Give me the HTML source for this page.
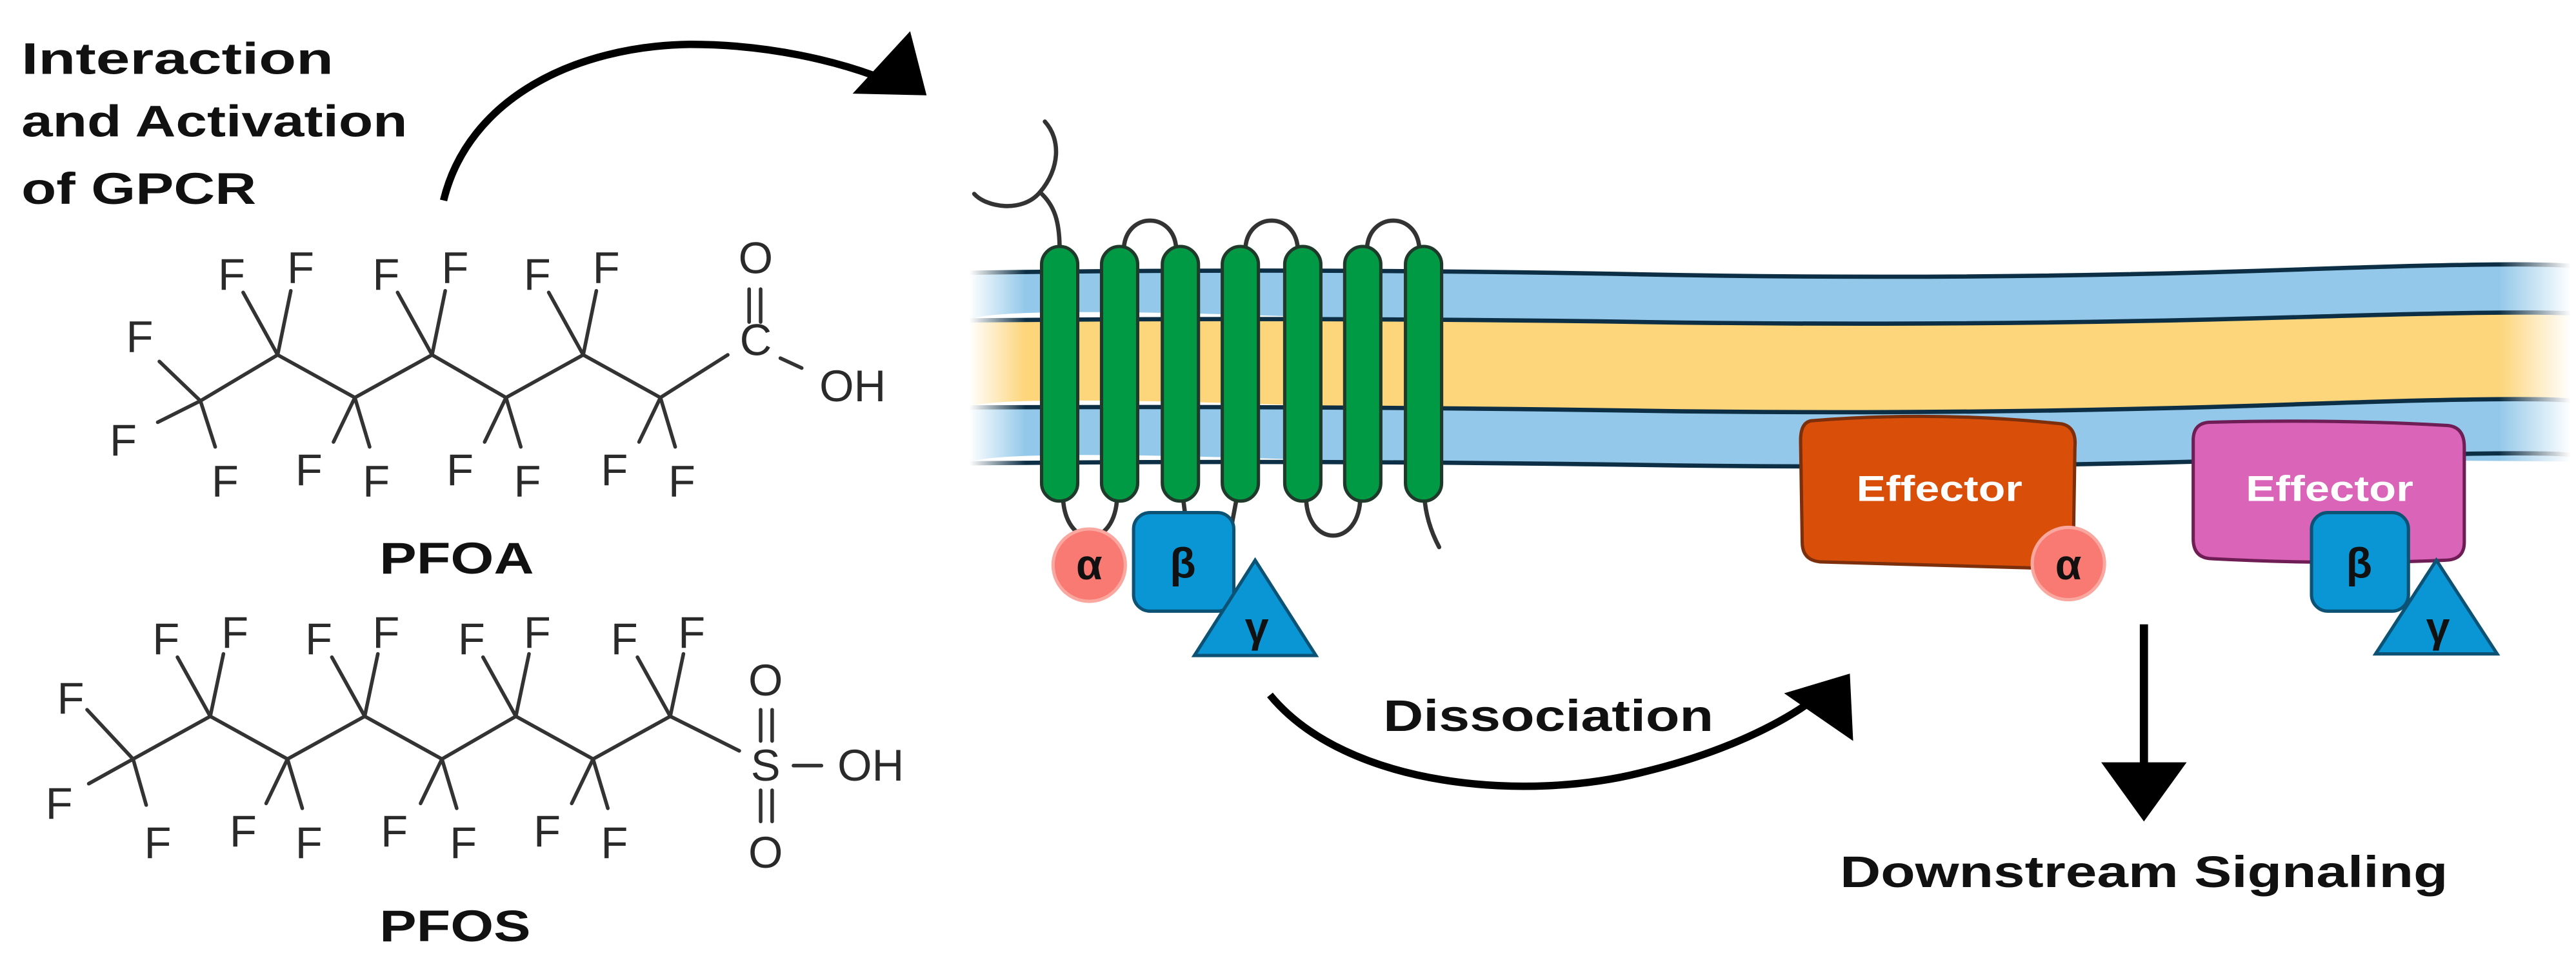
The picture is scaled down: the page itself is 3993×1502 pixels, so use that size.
<!DOCTYPE html>
<html><head><meta charset="utf-8"><style>
html,body{margin:0;padding:0;background:#fff;}
svg{display:block;}
text{font-family:"Liberation Sans",Arial,sans-serif;}
.f{font-size:27px;fill:#2a2a2a;text-anchor:middle;dominant-baseline:central;}
.b{stroke:#333;stroke-width:2.2;fill:none;stroke-linecap:round;}
.lbl{font-weight:bold;font-size:27px;fill:#111;}
.hx{fill:#009a44;stroke:#1f3a2a;stroke-width:2;}
.lp{stroke:#333;stroke-width:2.6;fill:none;stroke-linecap:round;}
.ml{stroke:#0d2f45;stroke-width:2.6;fill:none;}
.g{font-weight:bold;font-size:26px;fill:#111;text-anchor:middle;dominant-baseline:central;}
.eff{font-weight:bold;font-size:22px;fill:#fff;}
</style></head><body>
<svg width="3993" height="1502" viewBox="0 0 1568 589.8" preserveAspectRatio="none" xmlns="http://www.w3.org/2000/svg">
<defs>
<linearGradient id="fade" x1="0" x2="1" y1="0" y2="0">
<stop offset="0" stop-color="#fff" stop-opacity="0"/>
<stop offset="0.035" stop-color="#fff" stop-opacity="1"/>
<stop offset="0.955" stop-color="#fff" stop-opacity="1"/>
<stop offset="1" stop-color="#fff" stop-opacity="0"/>
</linearGradient>
<mask id="m"><rect x="590" y="140" width="975" height="170" fill="url(#fade)"/></mask>
</defs>

<!-- Left texts -->
<text class="lbl" x="13" y="45" textLength="190" lengthAdjust="spacingAndGlyphs">Interaction</text>
<text class="lbl" x="13" y="83" textLength="235" lengthAdjust="spacingAndGlyphs">and Activation</text>
<text class="lbl" x="13" y="124" textLength="143" lengthAdjust="spacingAndGlyphs">of GPCR</text>

<!-- top arrow -->
<path d="M270,122 C285,60 350,28 420,27 C470,27 510,38 532,46" stroke="#000" stroke-width="4.5" fill="none"/>
<polygon points="519,57 554,19 564,58" fill="#000"/>

<!-- PFOA -->
<g>
<polyline class="b" points="122,244 169,216 216,242 263,216 308,242 355,216 402,242 443,216"/>
<line class="b" x1="122" y1="244" x2="97" y2="220"/>
<line class="b" x1="122" y1="244" x2="96" y2="257"/>
<line class="b" x1="122" y1="244" x2="131" y2="272"/>
<text class="f" x="85" y="205">F</text><text class="f" x="75" y="268">F</text><text class="f" x="137" y="293">F</text>
<!-- above -->
<g>
<line class="b" x1="169" y1="216" x2="148" y2="178"/><line class="b" x1="169" y1="216" x2="177" y2="177"/>
<text class="f" x="141" y="167">F</text><text class="f" x="183" y="163">F</text>
<line class="b" x1="263" y1="216" x2="242" y2="178"/><line class="b" x1="263" y1="216" x2="271" y2="177"/>
<text class="f" x="235" y="167">F</text><text class="f" x="277" y="163">F</text>
<line class="b" x1="355" y1="216" x2="334" y2="178"/><line class="b" x1="355" y1="216" x2="363" y2="177"/>
<text class="f" x="327" y="167">F</text><text class="f" x="369" y="163">F</text>
</g>
<g>
<line class="b" x1="216" y1="242" x2="203" y2="269"/><line class="b" x1="216" y1="242" x2="225" y2="272"/>
<text class="f" x="188" y="286">F</text><text class="f" x="229" y="293">F</text>
<line class="b" x1="308" y1="242" x2="295" y2="269"/><line class="b" x1="308" y1="242" x2="317" y2="272"/>
<text class="f" x="280" y="286">F</text><text class="f" x="321" y="293">F</text>
<line class="b" x1="402" y1="242" x2="389" y2="269"/><line class="b" x1="402" y1="242" x2="411" y2="272"/>
<text class="f" x="374" y="286">F</text><text class="f" x="415" y="293">F</text>
</g>
<text class="f" x="460" y="207">C</text>
<line class="b" x1="456" y1="176" x2="456" y2="196"/><line class="b" x1="463" y1="176" x2="463" y2="196"/>
<text class="f" x="460" y="157">O</text>
<line class="b" x1="475" y1="218" x2="488" y2="224"/>
<text class="f" x="519" y="235">OH</text>
<text class="lbl" x="231" y="349" textLength="94" lengthAdjust="spacingAndGlyphs">PFOA</text>
</g>

<!-- PFOS -->
<g>
<polyline class="b" points="81,462 128,436 175,462 222,436 269,462 314,436 361,462 408,436 450,457"/>
<line class="b" x1="81" y1="462" x2="53" y2="432"/>
<line class="b" x1="81" y1="462" x2="54" y2="477"/>
<line class="b" x1="81" y1="462" x2="89" y2="490"/>
<text class="f" x="43" y="425">F</text><text class="f" x="36" y="489">F</text><text class="f" x="96" y="513">F</text>
<line class="b" x1="128" y1="436" x2="108" y2="400"/><line class="b" x1="128" y1="436" x2="136" y2="398"/>
<text class="f" x="101" y="389">F</text><text class="f" x="143" y="385">F</text>
<line class="b" x1="222" y1="436" x2="202" y2="400"/><line class="b" x1="222" y1="436" x2="230" y2="398"/>
<text class="f" x="194" y="389">F</text><text class="f" x="235" y="385">F</text>
<line class="b" x1="314" y1="436" x2="294" y2="400"/><line class="b" x1="314" y1="436" x2="322" y2="398"/>
<text class="f" x="287" y="389">F</text><text class="f" x="327" y="385">F</text>
<line class="b" x1="408" y1="436" x2="388" y2="400"/><line class="b" x1="408" y1="436" x2="416" y2="398"/>
<text class="f" x="380" y="389">F</text><text class="f" x="421" y="385">F</text>
<line class="b" x1="175" y1="462" x2="162" y2="489"/><line class="b" x1="175" y1="462" x2="184" y2="492"/>
<text class="f" x="148" y="506">F</text><text class="f" x="188" y="513">F</text>
<line class="b" x1="269" y1="462" x2="256" y2="489"/><line class="b" x1="269" y1="462" x2="278" y2="492"/>
<text class="f" x="240" y="506">F</text><text class="f" x="282" y="513">F</text>
<line class="b" x1="361" y1="462" x2="348" y2="489"/><line class="b" x1="361" y1="462" x2="370" y2="492"/>
<text class="f" x="333" y="506">F</text><text class="f" x="374" y="513">F</text>
<text class="f" x="466" y="466">S</text>
<line class="b" x1="463" y1="432" x2="463" y2="451"/><line class="b" x1="470" y1="432" x2="470" y2="451"/>
<line class="b" x1="463" y1="481" x2="463" y2="500"/><line class="b" x1="470" y1="481" x2="470" y2="500"/>
<text class="f" x="466" y="414">O</text><text class="f" x="466" y="519">O</text>
<line class="b" x1="483" y1="466" x2="500" y2="466"/>
<text class="f" x="530" y="466">OH</text>
<text class="lbl" x="231" y="573" textLength="92" lengthAdjust="spacingAndGlyphs">PFOS</text>
</g>

<!-- Membrane -->
<g mask="url(#m)">
<path d="M590,166 Q800,163 1000,167 T1400,164 T1570,166 L1570,194 Q1400,192 1200,196 T800,193 T590,195 Z" fill="#93c8ea"/>
<path d="M590,195 Q800,193 1000,196 T1400,193 T1570,194 L1570,248 Q1400,246 1200,250 T800,247 T590,248 Z" fill="#fdd57a"/>
<path d="M590,248 Q800,247 1000,250 T1400,246 T1570,248 L1570,281 Q1400,279 1200,283 T800,280 T590,282 Z" fill="#93c8ea"/>
<path class="ml" d="M590,166 Q800,163 1000,167 T1400,164 T1570,166"/>
<path class="ml" d="M590,195 Q800,193 1000,196 T1400,193 T1570,194"/>
<path class="ml" d="M590,248 Q800,247 1000,250 T1400,246 T1570,248"/>
<path class="ml" d="M590,282 Q800,280 1000,283 T1400,279 T1570,281"/>
</g>

<!-- N-term hook -->
<path class="lp" d="M593,118 C600,126 622,130 633,117 C645,103 646,85 636,74"/>
<path class="lp" d="M633,117 C642,125 645,135 645,152"/>
<!-- loops -->
<path class="lp" d="M684,153 C684,128 716,128 716,153"/>
<path class="lp" d="M758,153 C758,128 790,128 790,153"/>
<path class="lp" d="M832,153 C832,128 864,128 864,153"/>
<path class="lp" d="M647,302 C648,335 679,335 680,302"/>
<path class="lp" d="M720,302 L722,318 M753,302 L750,318"/>
<path class="lp" d="M795,302 C795,334 828,334 828,302"/>
<path class="lp" d="M867,302 Q868,318 876,333"/>
<!-- helices -->
<rect class="hx" x="634" y="150" width="22" height="155" rx="11"/>
<rect class="hx" x="670.5" y="150" width="22" height="155" rx="11"/>
<rect class="hx" x="707.5" y="150" width="22" height="155" rx="11"/>
<rect class="hx" x="744" y="150" width="22" height="155" rx="11"/>
<rect class="hx" x="782" y="150" width="22" height="155" rx="11"/>
<rect class="hx" x="818.5" y="150" width="22" height="155" rx="11"/>
<rect class="hx" x="855.5" y="150" width="22" height="155" rx="11"/>

<!-- G protein on receptor -->
<circle cx="663" cy="344" r="22" fill="#f87a72" stroke="#f9a79f" stroke-width="2"/>
<text class="g" x="663" y="344">α</text>
<rect x="690" y="312" width="61" height="60" rx="10" fill="#0a96d4" stroke="#0b5274" stroke-width="2"/>
<text class="g" x="720" y="343">β</text>
<polygon points="764,341 727,399 801,399" fill="#0a96d4" stroke="#0b5274" stroke-width="2"/>
<text class="g" x="765" y="382">γ</text>

<!-- Dissociation arrow -->
<path d="M773,423 C820,480 930,488 1000,470 C1050,458 1085,440 1105,425" stroke="#000" stroke-width="4.5" fill="none"/>
<polygon points="1086,422 1126,410 1128,451" fill="#000"/>
<text class="lbl" x="842" y="445" textLength="201" lengthAdjust="spacingAndGlyphs">Dissociation</text>

<!-- Effectors -->
<path d="M1104,256 Q1180,250 1255,258 Q1264,260 1263,272 L1262,335 Q1261,347 1248,346 Q1175,344 1108,342 Q1097,341 1097,330 L1096,268 Q1096,256 1104,256 Z" fill="#d94f0a" stroke="#7d2f0c" stroke-width="2"/>
<text class="eff" x="1130" y="305" textLength="101" lengthAdjust="spacingAndGlyphs">Effector</text>
<circle cx="1259" cy="343" r="22" fill="#f87a72" stroke="#f9a79f" stroke-width="2"/>
<text class="g" x="1259" y="344">α</text>

<path d="M1346,257 Q1420,255 1490,259 Q1500,260 1500,272 L1500,330 Q1500,341 1488,341 Q1420,344 1345,340 Q1335,339 1335,328 L1335,268 Q1335,257 1346,257 Z" fill="#d964b8" stroke="#6f1d55" stroke-width="2"/>
<text class="eff" x="1367" y="305" textLength="102" lengthAdjust="spacingAndGlyphs">Effector</text>
<rect x="1407" y="312" width="59" height="60" rx="10" fill="#0a96d4" stroke="#0b5274" stroke-width="2"/>
<text class="g" x="1436" y="343">β</text>
<polygon points="1483,341 1446,398 1520,398" fill="#0a96d4" stroke="#0b5274" stroke-width="2"/>
<text class="g" x="1484" y="382">γ</text>

<!-- Downstream arrow -->
<line x1="1305" y1="380" x2="1305" y2="466" stroke="#000" stroke-width="5"/>
<polygon points="1279,464 1331,464 1305,500" fill="#000"/>
<text class="lbl" x="1120" y="540" textLength="370" lengthAdjust="spacingAndGlyphs">Downstream Signaling</text>
</svg>
</body></html>
